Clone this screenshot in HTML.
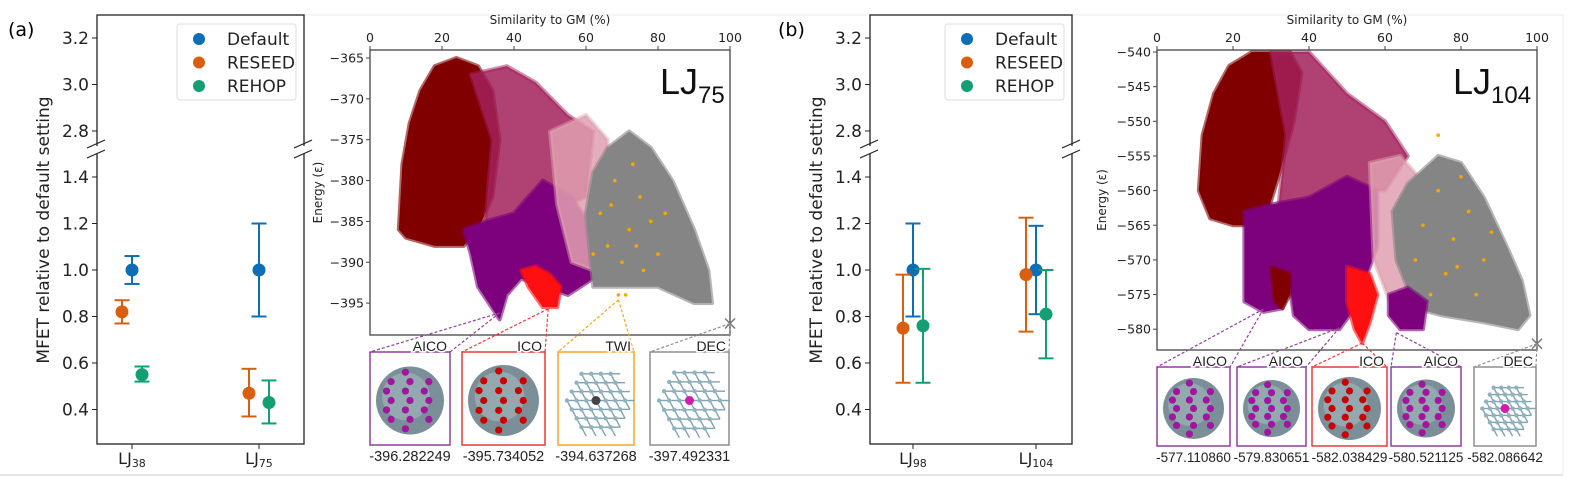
<!DOCTYPE html>
<html><head><meta charset="utf-8"><style>
body{margin:0;background:#fff;}
svg{display:block;font-family:"DejaVu Sans","Liberation Sans",sans-serif;}
</style></head><body>
<svg id="fig" width="1570" height="480" viewBox="0 0 1570 480" xmlns="http://www.w3.org/2000/svg">
<rect x="0" y="0" width="1570" height="480" fill="#fff"/>
<line x1="0" y1="475" x2="1563" y2="475" stroke="#ddd" stroke-width="1.5"/>
<line x1="300" y1="15" x2="1563" y2="15" stroke="#eee" stroke-width="1"/>
<line x1="1563" y1="15" x2="1563" y2="475" stroke="#eee" stroke-width="1"/>
<text x="8" y="36" font-size="19">(a)</text>
<text x="778" y="36" font-size="19">(b)</text>
</svg>
<script>
// ---------- MFET data ----------
const seriesNames = ["Default","RESEED","REHOP"];
const seriesColors = ["#0d6db5","#d95f0e","#139e74"];
const catsA = ["38","75"];
const meanA = [[1.0,1.0],[0.82,0.47],[0.55,0.43]];
const loA = [[0.94,0.80],[0.77,0.37],[0.52,0.34]];
const hiA = [[1.06,1.20],[0.87,0.575],[0.585,0.525]];
const catsB = ["98","104"];
const meanB = [[1.0,1.0],[0.75,0.98],[0.76,0.81]];
const loB = [[0.80,0.81],[0.515,0.735],[0.515,0.62]];
const hiB = [[1.20,1.19],[0.98,1.225],[1.005,1.0]];
const ticksLow = [0.4,0.6,0.8,1.0,1.2,1.4];
const ticksHigh = [2.8,3.0,3.2];

// ---------- scatter data (similarity %, energy) ----------
const lj75Regions = [
 {c:"#800000",o:1,p:[[8,-386],[9,-378],[11,-373],[14,-369],[18,-366],[24,-365],[30,-366],[34,-369],[36,-375],[34,-382],[30,-386],[26,-388],[18,-388],[10,-387]]},
 {c:"#a2205a",o:0.85,p:[[28,-367],[38,-366],[46,-368],[55,-372],[62,-374],[60,-382],[50,-384],[40,-386],[32,-385],[34,-375]]},
 {c:"#7d007d",o:1,p:[[26,-386],[32,-385],[40,-384],[48,-380],[56,-382],[62,-386],[62,-392],[55,-394],[48,-393],[42,-392],[38,-394],[36,-397],[33,-395],[30,-393],[28,-389]]},
 {c:"#e0a0b0",o:0.85,p:[[50,-374],[60,-372],[66,-375],[66,-385],[62,-391],[56,-390],[52,-383]]},
 {c:"#858585",o:1,p:[[60,-384],[62,-379],[66,-376],[72,-374],[78,-376],[84,-380],[90,-386],[94,-391],[95,-395],[90,-395],[80,-393],[70,-393],[62,-393]]},
 {c:"#ff1010",o:1,p:[[42,-391],[46,-390.5],[50,-391.5],[53,-393],[52,-395.5],[48,-395.5],[44,-393]]}
];
const lj104Regions = [
 {c:"#800000",o:1,p:[[11,-560],[12,-552],[15,-546],[19,-542],[25,-540],[35,-540],[38,-543],[36,-550],[32,-558],[28,-565],[20,-565],[14,-564]]},
 {c:"#a2205a",o:0.85,p:[[30,-540],[40,-540],[50,-546],[60,-550],[66,-555],[60,-560],[50,-560],[40,-562],[32,-562],[34,-552]]},
 {c:"#7d007d",o:1,p:[[23,-563],[30,-562],[40,-561],[50,-558],[58,-560],[58,-568],[52,-577],[48,-580],[40,-580],[36,-578],[35,-574],[33,-577],[28,-577.5],[23,-576]]},
 {c:"#e0a0b0",o:0.85,p:[[56,-556],[64,-555],[72,-560],[72,-577],[62,-577],[57,-570]]},
 {c:"#858585",o:1,p:[[62,-563],[66,-559],[74,-555],[80,-556],[86,-561],[92,-568],[96,-573],[98,-578],[95,-580],[86,-579],[75,-578],[68,-577],[63,-570]]},
 {c:"#800000",o:1,p:[[30,-571],[35,-572],[35,-575],[33,-577],[31,-576]]},
 {c:"#7d007d",o:1,p:[[61,-575],[66,-574],[71,-576],[70,-580],[64,-580],[61,-578]]},
 {c:"#ff1010",o:1,p:[[50,-571],[56,-572],[58,-575],[56,-579],[54,-582],[52,-580],[50,-576]]}
];
const orange75 = [[64,-384],[68,-380],[72,-386],[75,-382],[70,-390],[66,-388],[78,-385],[73,-378],[80,-389],[69,-394],[71,-394],[62,-389],[76,-391],[67,-383],[74,-388],[82,-384]];
const orange104 = [[70,-565],[74,-560],[78,-567],[82,-563],[76,-572],[72,-575],[86,-570],[80,-558],[84,-575],[68,-570],[88,-566],[74,-552],[79,-571]];
const xTicksS = [0,20,40,60,80,100];
const yTicks75 = [-365,-370,-375,-380,-385,-390,-395];
const yTicks104 = [-540,-545,-550,-555,-560,-565,-570,-575,-580];
const insets75Names = ["AICO","ICO","TWI","DEC"];
const insets75Values = ["-396.282249","-395.734052","-394.637268","-397.492331"];
const insets75Points = [[36,-396.2],[49.5,-395.7],[69,-394.6],[100,-397.5]];
const insets104Names = ["AICO","AICO","ICO","AICO","DEC"];
const insets104Values = ["-577.110860","-579.830651","-582.038429","-580.521125","-582.086642"];
const insets104Points = [[28,-577.1],[48,-579.8],[54,-582],[63,-580.5],[100,-582.1]];

const NS="http://www.w3.org/2000/svg";
const fig=document.getElementById('fig');
function mk(tag,attrs,parent,txt){const e=document.createElementNS(NS,tag);for(const k in attrs)e.setAttribute(k,attrs[k]);if(txt!==undefined)e.textContent=txt;(parent||fig).appendChild(e);return e;}

function mfetPanel(x0,x1,catX,cats,mean,lo,hi,pid){
  const g=mk('g',{});
  
  
  const yT=15,yB=444;
  const yL=v=>270-(v-1.0)*232.5;
  const yH=v=>38+(3.2-v)*232.5;
  const yv=v=>v>2?yH(v):yL(v);
  mk('rect',{x:x0,y:yT,width:x1-x0,height:yB-yT,fill:'none',stroke:'#222','stroke-width':1.3},g);
  [x0,x1].forEach(xx=>{
    mk('rect',{x:xx-4,y:146,width:8,height:8,fill:'#fff'},g);
    mk('line',{x1:xx-10,y1:148,x2:xx+8,y2:140,stroke:'#222','stroke-width':1.2},g);
    mk('line',{x1:xx-10,y1:158,x2:xx+8,y2:150,stroke:'#222','stroke-width':1.2},g);
  });
  ticksLow.concat(ticksHigh).forEach(t=>{
    const y=yv(t);
    mk('line',{x1:x0-5,y1:y,x2:x0,y2:y,stroke:'#222','stroke-width':1},g);
    const tl=mk('text',{x:x0-8,y:y+6,'font-size':17,'text-anchor':'end',fill:'#222'},g,t.toFixed(1));
    
    
  });
  const yl=mk('text',{transform:`translate(${x0-48},230) rotate(-90)`,'font-size':17,'text-anchor':'middle',fill:'#222'},g,'MFET relative to default setting');
  
  
  const offs=[0,-10,10];
  cats.forEach((c,i)=>{
    const cx=catX[i];
    mk('line',{x1:cx,y1:yB,x2:cx,y2:yB+5,stroke:'#222'},g);
    const xl=mk('text',{x:cx,y:464,'font-size':16,'text-anchor':'middle',fill:'#222'},g);
    
    
    mk('tspan',{},xl,'LJ');
    mk('tspan',{'font-size':11,dy:3},xl,c);
    for(let s=0;s<3;s++){
      const x=cx+offs[s],col=seriesColors[s];
      const eb=mk('g',{},g);
      
      
      mk('line',{x1:x,y1:yL(lo[s][i]),x2:x,y2:yL(hi[s][i]),stroke:col,'stroke-width':2},eb);
      mk('line',{x1:x-7.5,y1:yL(lo[s][i]),x2:x+7.5,y2:yL(lo[s][i]),stroke:col,'stroke-width':2},eb);
      mk('line',{x1:x-7.5,y1:yL(hi[s][i]),x2:x+7.5,y2:yL(hi[s][i]),stroke:col,'stroke-width':2},eb);
      const pt=mk('circle',{cx:x,cy:yL(mean[s][i]),r:6.5,fill:col},eb);
      
      
    }
  });
  const lg=mk('g',{},g);
  
  
  const lx=x1-127;
  mk('rect',{x:lx,y:24,width:119,height:76,rx:3,fill:'#fff',stroke:'#ddd'},lg);
  seriesNames.forEach((n,s)=>{
    const e=mk('g',{},lg);
    
    
    mk('circle',{cx:lx+22,cy:39+s*23.5,r:6,fill:seriesColors[s]},e);
    mk('text',{x:lx+50,y:45+s*23.5,'font-size':17,fill:'#222'},e,n);
  });
}
mfetPanel(97,304,[132,259],catsA,meanA,loA,hiA,'panel-a');
mfetPanel(870,1072,[913,1036],catsB,meanB,loB,hiB,'panel-b');

function molecule(g,bx,by,bw,bh,col,kind){
  const cx=bx+bw/2,cy=by+bh/2+2,r=Math.min(bw,bh)/2-6;
  if(kind==='ball'){
    mk('circle',{cx:cx,cy:cy,r:r,fill:'#7b8f98'},g);
    mk('circle',{cx:cx-4,cy:cy-4,r:r*0.7,fill:'#94a8b0'},g);
    for(let i=-3;i<=3;i++)for(let j=-3;j<=3;j++){
      const dx=i*r/3.6+(j%2?r/7:0),dy=j*r/3.6;
      if(dx*dx+dy*dy<r*r*0.85&&(i+j)%2===0)mk('circle',{cx:cx+dx,cy:cy+dy,r:3.6,fill:col},g);
    }
  } else {
    for(let i=-3;i<=3;i++)for(let j=-3;j<=3;j++){
      const dx=i*r/3.3+(j%2?r/6.6:0),dy=j*r/3.6;
      if(dx*dx+dy*dy<r*r*0.95){
        mk('line',{x1:cx+dx,y1:cy+dy,x2:cx+dx+r/3.3,y2:cy+dy,stroke:'#7fa3b0','stroke-width':1.4},g);
        mk('line',{x1:cx+dx,y1:cy+dy,x2:cx+dx+r/6.6,y2:cy+dy+r/3.6,stroke:'#7fa3b0','stroke-width':1.4},g);
        mk('circle',{cx:cx+dx,cy:cy+dy,r:2.2,fill:'#8fb2be'},g);
      }
    }
    mk('circle',{cx:cx,cy:cy,r:4.5,fill:col},g);
  }
}

function scatterPanel(o){
  const g=mk('g',{});
  
  
  const X=v=>o.x0+(v/100)*(o.x1-o.x0);
  const Y=e=>o.yRef+(o.eRef-e)*o.ppu;
  const cp=mk('clipPath',{id:'cp'+o.id},g);
  mk('rect',{x:o.x0,y:o.y0,width:o.x1-o.x0,height:o.y1-o.y0},cp);
  const pg=mk('g',{'clip-path':`url(#cp${o.id})`},g);
  o.regions.forEach((r,i)=>{
    const pl=mk('polygon',{points:r.p.map(q=>X(q[0])+','+Y(q[1])).join(' '),fill:r.c,'fill-opacity':r.o,stroke:r.c,'stroke-opacity':r.o*0.6,'stroke-width':4,'stroke-linejoin':'round'},pg);
    
    
  });
  o.orange.forEach(q=>{
    const d=mk('circle',{cx:X(q[0]),cy:Y(q[1]),r:1.8,fill:'#ffa500'},pg);
    
    
  });
  mk('rect',{x:o.x0,y:o.y0,width:o.x1-o.x0,height:o.y1-o.y0,fill:'none',stroke:'#444','stroke-width':1.3},g);
  xTicksS.forEach(t=>{
    mk('line',{x1:X(t),y1:o.y0-4,x2:X(t),y2:o.y0,stroke:'#444'},g);
    const tl=mk('text',{x:X(t),y:o.y0-8,'font-size':12.5,'text-anchor':'middle',fill:'#222'},g,t);
    
    
  });
  o.yTicks.forEach(t=>{
    mk('line',{x1:o.x0-4,y1:Y(t),x2:o.x0,y2:Y(t),stroke:'#444'},g);
    const tl=mk('text',{x:o.x0-6,y:Y(t)+4.5,'font-size':12.5,'text-anchor':'end',fill:'#222'},g,'\u2212'+Math.abs(t));
    
    
  });
  const xt=mk('text',{x:(o.x0+o.x1)/2,y:24,'font-size':12,'text-anchor':'middle',fill:'#222'},g,'Similarity to GM (%)');
  
  
  const yt=mk('text',{transform:`translate(${o.ylx},${(o.y0+o.y1)/2}) rotate(-90)`,'font-size':12,'text-anchor':'middle',fill:'#222'},g,'Energy (\u03b5)');
  
  
  const tt=mk('text',{x:o.titleX,y:94,'font-size':36,fill:'#111','font-family':'Liberation Sans, sans-serif'},g);
  
  
  mk('tspan',{},tt,'LJ');
  mk('tspan',{'font-size':24,dy:9},tt,o.sub);
  const gx=X(100),gy=Y(o.points[o.points.length-1][1]);
  mk('path',{d:`M${gx-5},${gy-5}L${gx+5},${gy+5}M${gx-5},${gy+5}L${gx+5},${gy-5}`,stroke:'#777','stroke-width':1.5},g);
  o.boxes.forEach((b,i)=>{
    const bg=mk('g',{},g);
    
    
    const n=o.names[i];
    const col=n==='AICO'?'#8e3f9c':n==='ICO'?'#e8383a':n==='TWI'?'#f5a623':'#8d8d8d';
    const p=o.points[i];
    const px=X(p[0]),py=Y(p[1]);
    mk('line',{x1:px,y1:py,x2:b[0],y2:o.by0,stroke:col,'stroke-width':1.2,'stroke-dasharray':'3,2'},bg);
    mk('line',{x1:px,y1:py,x2:b[1],y2:o.by0,stroke:col,'stroke-width':1.2,'stroke-dasharray':'3,2'},bg);
    mk('rect',{x:b[0],y:o.by0,width:b[1]-b[0],height:o.by1-o.by0,fill:'#fff',stroke:col,'stroke-width':1.5},bg);
    const mc=n==='AICO'?'#a0169f':n==='ICO'?'#c80000':n==='TWI'?'#444':'#d01cb0';
    molecule(bg,b[0],o.by0,b[1]-b[0],o.by1-o.by0,mc,(n==='DEC'||n==='TWI')?'net':'ball');
    mk('text',{x:b[1]-3,y:o.by0-1,'font-size':14,'text-anchor':'end',fill:'#222',stroke:'#fff','stroke-width':3,'paint-order':'stroke','font-family':'Liberation Sans, sans-serif'},bg,n);
    const vl=mk('text',{x:(b[0]+b[1])/2,y:o.by1+16,'font-size':o.vfs,'text-anchor':'middle',fill:'#222','font-family':'Liberation Sans, sans-serif'},bg,o.values[i]);
    
    
  });
}
scatterPanel({id:'lj75',x0:370,x1:730,y0:50,y1:335,yRef:58,eRef:-365,ppu:8.17,yTicks:yTicks75,regions:lj75Regions,orange:orange75,ylx:322,titleX:660,sub:'75',vfs:14.5,
  names:insets75Names,values:insets75Values,points:insets75Points,boxes:[[370,450],[462,545],[558,634],[650,729]],by0:352,by1:445});
scatterPanel({id:'lj104',x0:1157,x1:1537,y0:50,y1:350,yRef:52,eRef:-540,ppu:6.93,yTicks:yTicks104,regions:lj104Regions,orange:orange104,ylx:1106,titleX:1453,sub:'104',vfs:13.5,
  names:insets104Names,values:insets104Values,points:insets104Points,boxes:[[1157,1230],[1237,1306],[1312,1387],[1391,1461],[1474,1536]],by0:367,by1:446});
</script>
</body></html>
